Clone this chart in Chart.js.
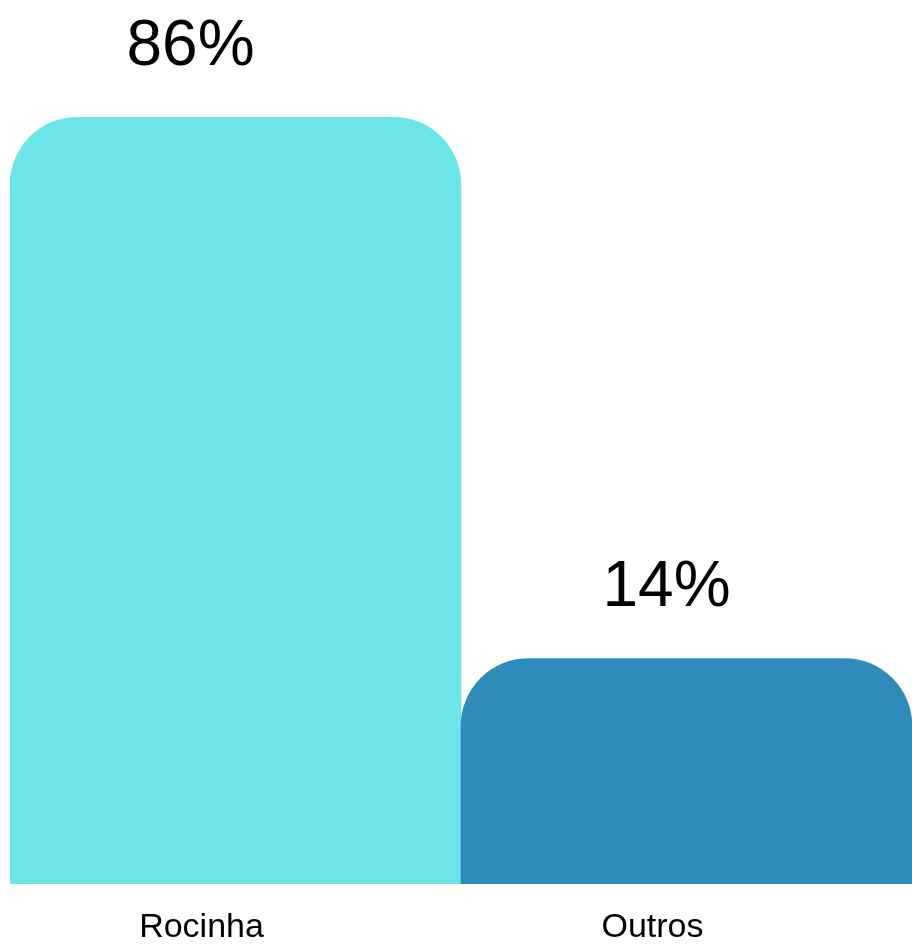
<!DOCTYPE html>
<html>
<head>
<meta charset="utf-8">
<title>Rocinha x Outros</title>
<script src="https://cdn.jsdelivr.net/npm/chart.js@4/dist/chart.umd.min.js"></script>
<style>
  html, body { margin: 0; padding: 0; background: #fff; }
  #chart { display: block; }
</style>
</head>
<body>
<canvas id="chart" width="912" height="944"></canvas>
<script>
const categories = ['Rocinha', 'Outros'];
const shares = [86, 14];
const barColors = ['#6ce5e8', '#2e8bba'];

// value labels sit a little left of each bar centre in the original
const labelShift = [-45, -20];

const valueLabels = {
    id: 'valueLabels',
    afterDatasetsDraw(chart) {
        const ctx = chart.ctx;
        const meta = chart.getDatasetMeta(0);
        ctx.save();
        ctx.font = '64px "Liberation Sans", Arial, sans-serif';
        ctx.fillStyle = '#000';
        ctx.textAlign = 'center';
        ctx.textBaseline = 'alphabetic';
        meta.data.forEach((bar, i) => {
            ctx.fillText(shares[i] + '%', bar.x + labelShift[i], bar.y - 52);
        });
        ctx.restore();
    }
};

const ctx = document.getElementById('chart').getContext('2d');
new Chart(ctx, {
    type: 'bar',
    data: {
        labels: categories,
        datasets: [{
            data: shares,
            backgroundColor: barColors,
            borderWidth: 0,
            borderRadius: { topLeft: 68, topRight: 68, bottomLeft: 0, bottomRight: 0 },
            borderSkipped: 'start',
            base: -16,
            barPercentage: 1,
            categoryPercentage: 1
        }]
    },
    options: {
        responsive: false,
        animation: false,
        layout: { padding: { top: 12, left: 10, right: 0, bottom: 0 } },
        plugins: {
            legend: { display: false },
            tooltip: { enabled: false }
        },
        scales: {
            x: {
                grid: { display: false, drawTicks: false },
                border: { display: false },
                ticks: {
                    color: '#000',
                    padding: 23,
                    labelOffset: -34,
                    font: { family: '"Liberation Sans", Arial, sans-serif', size: 34, lineHeight: 1.2 }
                },
                afterFit(scale) {
                    scale.height = 60;
                }
            },
            y: {
                display: false,
                min: -16,
                max: 100
            }
        }
    },
    plugins: [valueLabels]
});
</script>
</body>
</html>
